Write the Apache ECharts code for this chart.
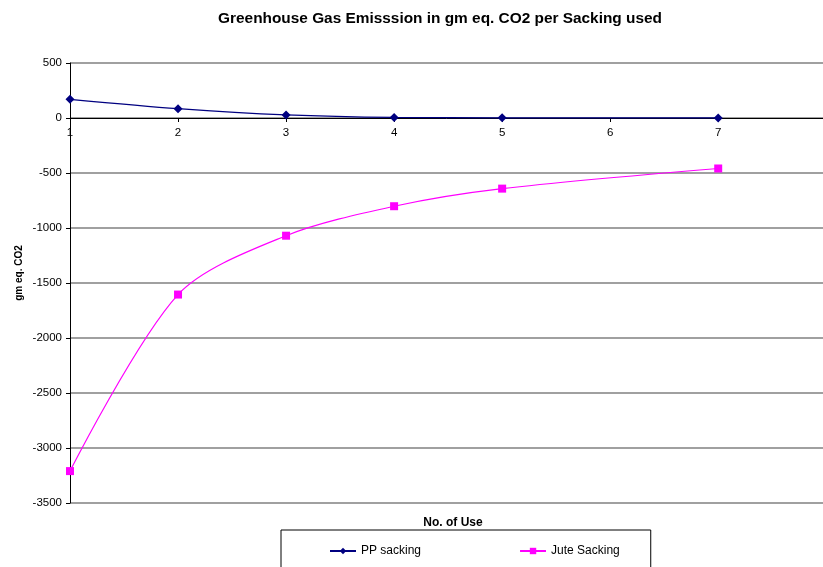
<!DOCTYPE html>
<html>
<head>
<meta charset="utf-8">
<script src="https://cdn.jsdelivr.net/npm/echarts@6/dist/echarts.min.js"></script>
<style>
  html, body { margin: 0; padding: 0; background: #fff; }
  #chart { width: 823px; height: 567px; }
</style>
</head>
<body>
<div id="chart"></div>
<script>
// number of uses (no reading at 6)
const uses = [1, 2, 3, 4, 5, 7];
const ppSacking = [170, 85, 28, 5, 2, 0.5];
const juteSacking = [-3210, -1605, -1070, -802, -642, -459];
const xTicks = ['1', '2', '3', '4', '5', '6', '7'];

const chart = echarts.init(document.getElementById('chart'));

const toPoints = (xs, ys) => xs.map((x, i) => [x, ys[i]]);

// plot area: 0 sits at y=118, bottom of grid at y=503
const gridTop = 63, gridBottom = 64;
const zeroShift = -385;

const option = {
  animation: false,
  textStyle: { fontFamily: 'Liberation Sans, Arial, sans-serif' },
  title: [
    {
      text: 'Greenhouse Gas Emisssion in gm eq. CO2 per Sacking used',
      left: 435,
      top: 6,
      textAlign: 'center',
      textStyle: { fontSize: 15.4, fontWeight: 'bold', color: '#000' }
    },
    {
      text: 'No. of Use',
      left: 448,
      top: 512,
      textAlign: 'center',
      textStyle: { fontSize: 12, fontWeight: 'bold', color: '#000' }
    }
  ],
  graphic: [
    {
      type: 'text',
      x: 19,
      y: 273,
      rotation: Math.PI / 2,
      style: {
        text: 'gm eq. CO2',
        font: 'bold 10px "Liberation Sans", Arial, sans-serif',
        fill: '#000',
        align: 'center',
        verticalAlign: 'middle'
      }
    }
  ],
  legend: {
    left: 281,
    top: 530,
    orient: 'horizontal',
    borderColor: '#000',
    borderWidth: 1,
    padding: [15, 31, 30, 48],
    itemGap: 98,
    itemWidth: 26,
    itemHeight: 8,
    textStyle: { fontSize: 12, color: '#000' },
    data: ['PP sacking', 'Jute Sacking']
  },
  grid: { left: 70, right: 0, top: gridTop, bottom: gridBottom },
  xAxis: {
    type: 'value',
    min: 1,
    max: 7.97,
    interval: 1,
    offset: zeroShift,
    axisLine: { onZero: false, lineStyle: { color: '#000', width: 1 } },
    axisTick: { show: true, inside: false, length: 4, lineStyle: { color: '#000' } },
    axisLabel: {
      fontSize: 11.5,
      color: '#000',
      margin: 9,
      showMaxLabel: false,
      formatter: v => xTicks[v - 1] || ''
    },
    splitLine: { show: false }
  },
  yAxis: {
    type: 'value',
    min: -3500,
    max: 500,
    interval: 500,
    axisLine: { show: true, lineStyle: { color: '#000', width: 1 } },
    axisTick: { show: true, length: 4, lineStyle: { color: '#000' } },
    axisLabel: { fontSize: 11.5, color: '#000', margin: 8, formatter: v => String(v) },
    splitLine: { show: true, lineStyle: { color: '#808080', width: 1.5 } }
  },
  series: [
    {
      name: 'PP sacking',
      type: 'line',
      smooth: 0.3,
      data: toPoints(uses, ppSacking),
      symbol: 'diamond',
      symbolSize: 9,
      itemStyle: { color: '#000080' },
      lineStyle: { color: '#000080', width: 1.2 }
    },
    {
      name: 'Jute Sacking',
      type: 'line',
      smooth: 0.3,
      data: toPoints(uses, juteSacking),
      symbol: 'rect',
      symbolSize: 8,
      itemStyle: { color: '#FF00FF' },
      lineStyle: { color: '#FF00FF', width: 1.2 }
    }
  ]
};

chart.setOption(option);
</script>
</body>
</html>
